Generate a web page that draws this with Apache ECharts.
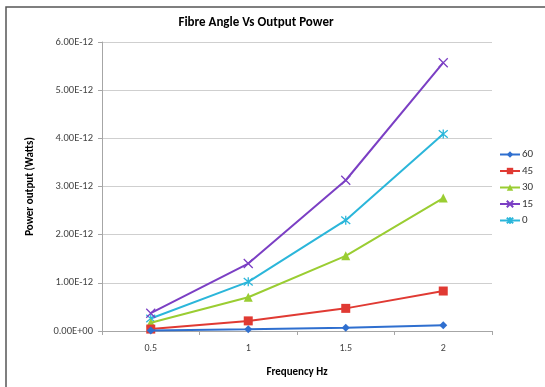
<!DOCTYPE html>
<html>
<head>
<meta charset="utf-8">
<script src="https://cdn.jsdelivr.net/npm/echarts@6/dist/echarts.min.js"></script>
<style>
  html, body { margin: 0; padding: 0; background: #fff; }
  #chart { width: 545px; height: 387px; }
</style>
</head>
<body>
<div id="chart"></div>
<script>
// Frequency categories (Hz)
const frequencies = ['0.5', '1', '1.5', '2'];

// Output power (Watts) for each fibre angle
const angle60 = [0.01e-12, 0.035e-12, 0.07e-12, 0.12e-12];
const angle45 = [0.04e-12, 0.21e-12, 0.47e-12, 0.83e-12];
const angle30 = [0.17e-12, 0.70e-12, 1.56e-12, 2.76e-12];
const angle15 = [0.37e-12, 1.40e-12, 3.13e-12, 5.57e-12];
const angle0  = [0.26e-12, 1.02e-12, 2.30e-12, 4.09e-12];

const seriesNames = ['60', '45', '30', '15', '0'];
const seriesValues = [angle60, angle45, angle30, angle15, angle0];
const seriesColors = ['#2f6fcf', '#e03a33', '#9acd32', '#7b3fc4', '#2bb6da'];

const crossPath = 'path://M0,0L10,10M10,0L0,10';
const starPath = 'path://M0,0L10,10M10,0L0,10M5,-1L5,11';
const symbols = ['diamond', 'rect', 'triangle', crossPath, starPath];
const symbolSizes = [8, 9, 9, 9, 9];

const fmtSci = v => {
  if (v === 0) return '0.00E+00';
  const exp = Math.floor(Math.log10(Math.abs(v)) + 1e-9);
  const mant = v / Math.pow(10, exp);
  return mant.toFixed(2) + 'E' + (exp < 0 ? '-' : '+') + String(Math.abs(exp)).padStart(2, '0');
};

const chart = echarts.init(document.getElementById('chart'));
const fontFamily = 'Carlito, "Open Sans", Calibri, sans-serif';

chart.setOption({
  animation: false,
  backgroundColor: '#ffffff',
  graphic: [{
    type: 'rect',
    shape: { x: 6, y: 7, width: 600, height: 420 },
    style: { fill: 'none', stroke: '#555', lineWidth: 1.5 },
    silent: true,
    z: 100
  }],
  title: {
    text: 'Fibre Angle Vs Output Power',
    left: 251,
    textAlign: 'center',
    top: 11,
    textStyle: { fontFamily, fontSize: 13, fontWeight: 'bold', color: '#000' }
  },
  legend: {
    orient: 'vertical',
    left: 499,
    top: 149,
    padding: 0,
    itemGap: 5.5,
    itemWidth: 20,
    itemHeight: 8,
    data: seriesNames.map(n => ({ name: n })),
    textStyle: { fontFamily, fontSize: 11, color: '#333', padding: [0, 0, 0, -3] }
  },
  grid: { left: 102, right: 53, top: 42, bottom: 56 },
  xAxis: {
    type: 'category',
    data: frequencies,
    boundaryGap: true,
    name: 'Frequency Hz',
    nameLocation: 'middle',
    nameGap: 36,
    nameTextStyle: { fontFamily, fontSize: 11, fontWeight: 'bold', color: '#000' },
    axisLine: { lineStyle: { color: '#a6a6a6' } },
    axisTick: { show: true, alignWithLabel: false, length: 4, lineStyle: { color: '#a6a6a6' } },
    axisLabel: { fontFamily, fontSize: 10, color: '#444', margin: 12 },
    splitLine: { show: false }
  },
  yAxis: {
    type: 'value',
    min: 0,
    max: 6e-12,
    interval: 1e-12,
    name: 'Power output (Watts)',
    nameLocation: 'middle',
    nameGap: 66,
    nameTextStyle: { fontFamily, fontSize: 11, fontWeight: 'bold', color: '#000' },
    axisLine: { show: true, lineStyle: { color: '#a6a6a6' } },
    axisTick: { show: true, length: 4, lineStyle: { color: '#a6a6a6' } },
    axisLabel: { fontFamily, fontSize: 10.5, color: '#444', margin: 9, formatter: fmtSci },
    splitLine: { show: true, lineStyle: { color: '#cfcfcf', width: 1.2 } }
  },
  series: seriesNames.map((n, i) => ({
    name: n,
    type: 'line',
    data: seriesValues[i],
    symbol: symbols[i],
    symbolSize: symbolSizes[i],
    showAllSymbol: true,
    lineStyle: { color: seriesColors[i], width: 2 },
    itemStyle: {
      color: seriesColors[i],
      borderColor: seriesColors[i],
      borderWidth: i >= 3 ? 1.3 : 0
    },
    z: 10 - i
  }))
});
</script>
</body>
</html>
